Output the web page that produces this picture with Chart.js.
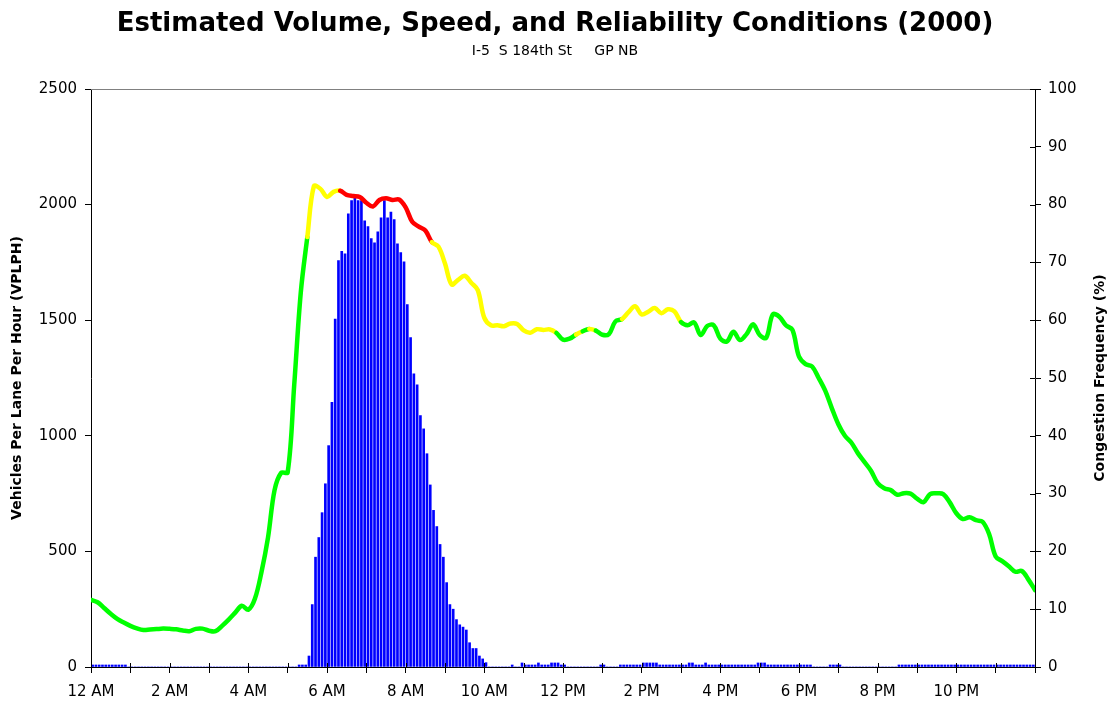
<!DOCTYPE html>
<html><head><meta charset="utf-8">
<script src="https://cdn.jsdelivr.net/npm/chart.js@4.4.0/dist/chart.umd.min.js"></script>
<style>html,body{margin:0;padding:0;background:#fff}#wrap{width:1110px;height:702px;position:relative}</style>
</head><body><div id="wrap"><canvas id="c" width="1110" height="702"></canvas></div>
<script>
const chartTitle = 'Estimated Volume, Speed, and Reliability Conditions (2000)';
const chartSubtitle = 'I-5  S 184th St     GP NB';
const leftAxisTitle = 'Vehicles Per Lane Per Hour (VPLPH)';
const rightAxisTitle = 'Congestion Frequency (%)';
const hourLabels = ['12 AM','2 AM','4 AM','6 AM','8 AM','10 AM','12 PM','2 PM','4 PM','6 PM','8 PM','10 PM'];

// volume line, one reading every 10 minutes from 12 AM (0) to 12 AM (1440)
const volume = [
  290,280,255,230,208,192,178,167,160,162,164,166,   // 0:00-1:50
  165,163,158,155,165,166,157,155,178,205,235,265,   // 2:00-3:50
  248,295,410,560,765,840,842,1220,1620,1860,2080,2068, // 4:00-5:50
  2033,2055,2060,2042,2037,2033,2008,1992,2020,2027,2020,2022, // 6:00-7:50
  1988,1926,1905,1888,1838,1818,1745,1655,1674,1692,1662,1630, // 8:00-9:50
  1510,1478,1478,1474,1486,1484,1456,1446,1461,1458,1460,1445, // 10:00-11:50
  1416,1420,1438,1452,1462,1455,1437,1440,1495,1505,1535,1560, // 12:00-13:50
  1525,1537,1553,1530,1547,1538,1492,1478,1490,1436,1475,1478, // 14:00-15:50
  1420,1408,1450,1414,1440,1482,1436,1424,1525,1515,1478,1458, // 16:00-17:50
  1343,1310,1300,1250,1195,1120,1050,1000,970,924,886,848,     // 18:00-19:50
  795,773,765,745,752,750,728,713,748,751,748,712,             // 20:00-21:50
  665,640,648,635,628,575,478,458,436,412,415,378,             // 22:00-23:50
  333                                                          // 24:00
];
// speed condition of each line segment: G = uncongested, Y = slowed, R = congested
const speedState = (
  'GGGGGGGGGGGG' + 'GGGGGGGGGGGG' + 'GGGGGGGGGYYY' +
  'YYRRRRRRRRRR' + 'RRRRYYYYYYYY' + 'YYYYYYYYYYYG' +
  'GGYGYGGGGYYY' + 'YYYYYYGGGGGG' + 'GGGGGGGGGGGG' +
  'GGGGGGGGGGGG' + 'GGGGGGGGGGGG' + 'GGGGGGGGGGGG' + 'G').split('');
const stateColors = { G: '#00ff00', Y: '#ffff00', R: '#ff0000' };

// congestion frequency (%), one bar per 5-minute period
const congestion = [
  0.35,0.35,0.35,0.35,0.35,0.35,0.35,0.35,0.35,0.35,0.35,0,     // 0h
  0,0,0,0,0,0,0,0,0,0,0,0,                                     // 1h
  0,0,0,0,0,0,0,0,0,0,0,0,                                     // 2h
  0,0,0,0,0,0,0,0,0,0,0,0,                                     // 3h
  0,0,0,0,0,0,0,0,0,0,0,0,                                     // 4h
  0,0,0,0.35,0.35,0.35,1.9,10.8,19.0,22.4,26.7,31.7,           // 5h
  38.3,45.8,60.2,70.3,71.9,71.5,78.4,80.7,81.1,80.7,80.7,77.2, // 6h
  76.2,74.1,73.4,75.3,77.7,80.7,77.7,78.7,77.4,73.2,71.7,70.1, // 7h
  62.7,57.0,50.7,48.8,43.5,41.2,36.9,31.5,27.1,24.3,21.2,19.0, // 8h
  14.6,10.8,10.0,8.2,7.3,6.9,6.4,4.2,3.2,3.2,1.9,1.4,          // 9h
  0.75,0,0,0,0,0,0,0,0.35,0,0,0.7,                             // 10h
  0.35,0.35,0.35,0.35,0.7,0.35,0.35,0.35,0.7,0.7,0.7,0.35,     // 11h
  0.35,0,0,0,0,0,0,0,0,0,0,0.35,                               // 12h
  0.35,0,0,0,0,0.35,0.35,0.35,0.35,0.35,0.35,0.35,             // 13h
  0.7,0.7,0.7,0.7,0.7,0.35,0.35,0.35,0.35,0.35,0.35,0.35,      // 14h
  0.35,0.35,0.7,0.7,0.35,0.35,0.35,0.7,0.35,0.35,0.35,0.35,    // 15h
  0.35,0.35,0.35,0.35,0.35,0.35,0.35,0.35,0.35,0.35,0.35,0.7,  // 16h
  0.7,0.7,0.35,0.35,0.35,0.35,0.35,0.35,0.35,0.35,0.35,0.35,   // 17h
  0.35,0.35,0.35,0.35,0,0,0,0,0,0.35,0.35,0.35,                // 18h
  0.35,0,0,0,0,0,0,0,0,0,0,0,                                  // 19h
  0,0,0,0,0,0,0.35,0.35,0.35,0.35,0.35,0.35,                   // 20h
  0.35,0.35,0.35,0.35,0.35,0.35,0.35,0.35,0.35,0.35,0.35,0.35, // 21h
  0.35,0.35,0.35,0.35,0.35,0.35,0.35,0.35,0.35,0.35,0.35,0.35, // 22h
  0.35,0.35,0.35,0.35,0.35,0.35,0.35,0.35,0.35,0.35,0.35,0.35  // 23h
];

const volumePoints = volume.map((v, i) => ({ x: i * 10, y: v }));
const congestionPoints = congestion.map((v, i) => ({ x: i * 5 + 2.5, y: v }));

const tickFont = { family: 'DejaVu Sans', size: 15 };

const extras = {
  id: 'extras',
  afterDraw(chart) {
    const { ctx, chartArea: a, scales } = chart;
    ctx.save();
    // grey top border of plot area
    ctx.strokeStyle = '#808080';
    ctx.lineWidth = 1;
    ctx.beginPath();
    ctx.moveTo(a.left, a.top + 0.5);
    ctx.lineTo(a.right, a.top + 0.5);
    ctx.stroke();
    // inner halves of the crossing tick marks
    ctx.strokeStyle = '#000';
    ctx.beginPath();
    scales.x.ticks.forEach(t => {
      const px = Math.round(scales.x.getPixelForValue(t.value)) + 0.5;
      ctx.moveTo(px, a.bottom);
      ctx.lineTo(px, a.bottom - 4);
    });
    scales.y1.ticks.forEach(t => {
      const py = Math.round(scales.y1.getPixelForValue(t.value)) + 0.5;
      ctx.moveTo(a.right, py);
      ctx.lineTo(a.right - 5, py);
    });
    ctx.stroke();
    // right axis title, reading bottom to top
    ctx.translate(a.right + 65, (a.top + a.bottom) / 2);
    ctx.rotate(-Math.PI / 2);
    ctx.font = 'bold 14px "DejaVu Sans"';
    ctx.fillStyle = '#000';
    ctx.textAlign = 'center';
    ctx.textBaseline = 'middle';
    ctx.fillText(rightAxisTitle, 0, 0);
    ctx.restore();
  }
};

new Chart(document.getElementById('c'), {
  type: 'bar',
  data: {
    datasets: [
      {
        type: 'line',
        label: 'Volume',
        data: volumePoints,
        yAxisID: 'y',
        borderWidth: 4.5,
        borderColor: '#00ff00',
        borderCapStyle: 'round',
        borderJoinStyle: 'round',
        tension: 0.35,
        pointRadius: 0,
        fill: false,
        segment: { borderColor: c => stateColors[speedState[c.p0DataIndex]] },
        order: 0
      },
      {
        type: 'bar',
        label: 'Congestion Frequency',
        data: congestionPoints,
        yAxisID: 'y1',
        backgroundColor: '#0000ff',
        borderWidth: 0,
        barThickness: 2,
        order: 1
      }
    ]
  },
  options: {
    responsive: false,
    animation: false,
    devicePixelRatio: 1,
    layout: { padding: 0 },
    plugins: {
      legend: { display: false },
      tooltip: { enabled: false },
      title: {
        display: true,
        text: chartTitle,
        color: '#000',
        font: { family: 'DejaVu Sans', size: 26, weight: 'bold', lineHeight: 1.2 },
        padding: { top: 9, bottom: 0 }
      },
      subtitle: {
        display: true,
        text: chartSubtitle,
        color: '#000',
        font: { family: 'DejaVu Sans', size: 14, lineHeight: 1.2 },
        padding: { top: 3, bottom: 29 }
      }
    },
    scales: {
      x: {
        type: 'linear',
        min: 0,
        max: 1440,
        offset: false,
        afterFit: s => { s.height = 35; },
        grid: { drawOnChartArea: false, drawTicks: true, tickLength: 6, tickColor: '#000', offset: false },
        border: { display: true, color: '#000', width: 1 },
        ticks: {
          stepSize: 60,
          autoSkip: false,
          maxRotation: 0,
          minRotation: 0,
          padding: 10,
          color: '#000',
          font: tickFont,
          callback: v => (v % 120 === 0 && v < 1440) ? hourLabels[v / 120] : ''
        }
      },
      y: {
        type: 'linear',
        position: 'left',
        min: 0,
        max: 2500,
        afterFit: s => { s.width = 91; },
        grid: { drawOnChartArea: false, tickLength: 6, tickColor: '#000' },
        border: { display: true, color: '#000', width: 1 },
        ticks: { stepSize: 500, padding: 8, color: '#000', font: tickFont, callback: v => String(v) },
        title: {
          display: true,
          text: leftAxisTitle,
          color: '#000',
          font: { family: 'DejaVu Sans', size: 14, weight: 'bold', lineHeight: 1.2 },
          padding: { top: 9, bottom: 0 }
        }
      },
      y1: {
        type: 'linear',
        position: 'right',
        min: 0,
        max: 100,
        afterFit: s => { s.width = 75; },
        grid: { drawOnChartArea: false, tickLength: 6, tickColor: '#000' },
        border: { display: true, color: '#000', width: 1 },
        ticks: { stepSize: 10, padding: 7, color: '#000', font: tickFont, callback: v => String(v) }
      }
    }
  },
  plugins: [extras]
});
</script>
</body></html>
